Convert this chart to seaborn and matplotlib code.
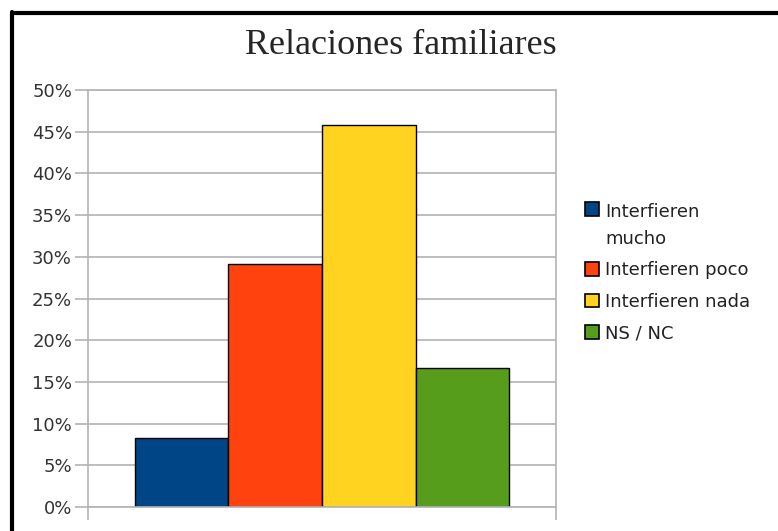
import matplotlib
matplotlib.use("Agg")
import matplotlib.pyplot as plt
import matplotlib.lines as mlines
import matplotlib.patches as mpatches
from matplotlib.legend_handler import HandlerPatch, update_from_first_child
from matplotlib.ticker import PercentFormatter, MultipleLocator
import seaborn as sns
import pandas as pd

# Data (shares of answers)
categories = ["Interfieren\nmucho", "Interfieren poco", "Interfieren nada", "NS / NC"]
shares = [8.33, 29.17, 45.83, 16.67]
colors = ["#004586", "#ff420e", "#ffd320", "#579d1c"]
title = "Relaciones familiares"

df = pd.DataFrame({"grupo": [""] * len(categories), "respuesta": categories, "pct": shares})

sns.set_style("white")
plt.rcParams["font.family"] = ["DejaVu Sans"]

fig = plt.figure(figsize=(7.78, 5.31), dpi=100)
ax = fig.add_axes([88 / 778, 1 - 507 / 531, 468 / 778, 417 / 531])

sns.barplot(
    data=df,
    x="grupo",
    y="pct",
    hue="respuesta",
    palette=colors,
    saturation=1,
    edgecolor="black",
    linewidth=1.0,
    width=0.8,
    ax=ax,
)

grid_col = "#b3b3b3"
ax.set_xlim(-0.5, 0.5)
ax.set_ylim(0, 50)
ax.yaxis.set_major_locator(MultipleLocator(5))
ax.yaxis.set_major_formatter(PercentFormatter(decimals=0))
ax.grid(axis="y", color=grid_col, linewidth=1.2)
ax.set_axisbelow(True)
ax.set_xticks([-0.5, 0.5], labels=["", ""])
ax.set_xlabel("")
ax.set_ylabel("")
ax.tick_params(axis="both", length=9.5, width=1.2, color=grid_col, labelsize=13,
               labelcolor="#333333", pad=2)
ax.tick_params(axis="y", left=True)
ax.tick_params(axis="x", bottom=True)
for s in ax.spines.values():
    s.set_color(grid_col)
    s.set_linewidth(1.2)


# the swatch of a two-line label sits next to its first line
def top_swatch(legend, orig_handle, xdescent, ydescent, width, height, fontsize):
    return mpatches.Rectangle((-xdescent, -ydescent + 12), width, height)


handles, labels = ax.get_legend_handles_labels()
leg = ax.legend(
    handles, labels,
    handler_map={handles[0]: HandlerPatch(patch_func=top_swatch,
                                          update_func=update_from_first_child)},
    loc="upper left",
    bbox_to_anchor=(572 / 778, 1 - 190 / 531),
    bbox_transform=fig.transFigure,
    frameon=False,
    fontsize=13,
    handlelength=0.8,
    handleheight=0.8,
    handletextpad=0.35,
    labelspacing=0.75,
    borderpad=0.2,
)
for h, c in zip(leg.legend_handles, colors):
    h.set_facecolor(c)
    h.set_edgecolor("black")
    h.set_linewidth(1.2)
for t in leg.get_texts():
    t.set_color("#222222")
    t.set_linespacing(1.65)

fig.text(401 / 778, 1 - 46 / 531, title, ha="center", va="center",
         fontsize=26, family="Liberation Serif")

# black frame on the top and left edges
fig.add_artist(mlines.Line2D([12 / 778, 12 / 778], [0, 1 - 12 / 531],
                             transform=fig.transFigure, color="black", linewidth=3))
fig.add_artist(mlines.Line2D([12 / 778, 1], [1 - 13 / 531, 1 - 13 / 531],
                             transform=fig.transFigure, color="black", linewidth=3))

fig.savefig("out.png", dpi=100)
